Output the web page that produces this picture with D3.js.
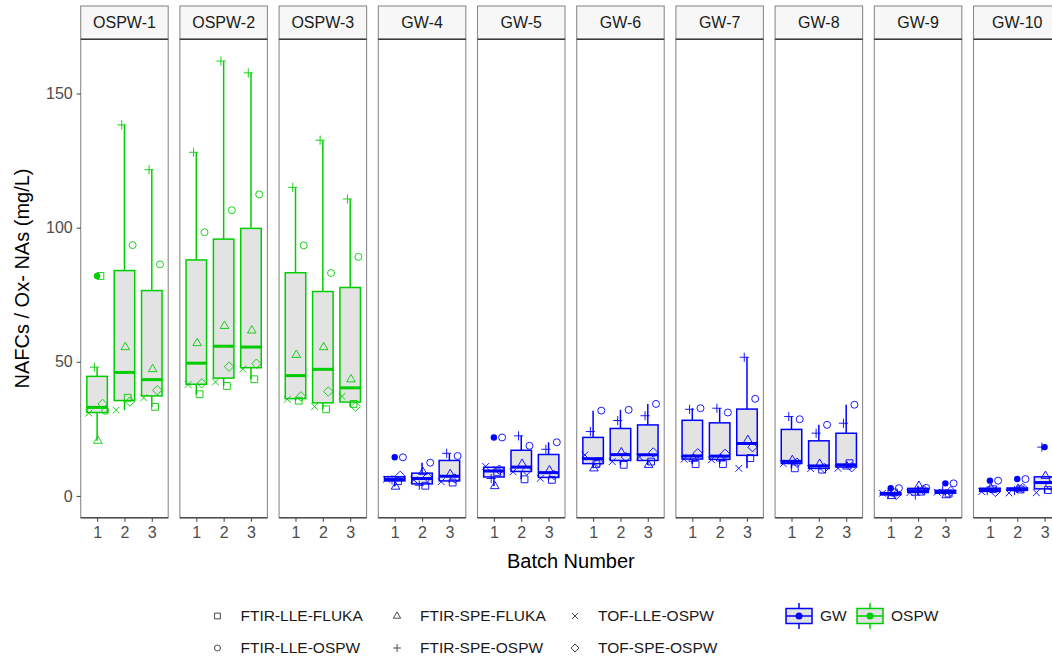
<!DOCTYPE html>
<html>
<head>
<meta charset="utf-8">
<script src="https://cdn.jsdelivr.net/npm/d3@7/dist/d3.min.js"></script>
<style>
  body { margin: 0; background: #fff; }
  svg { display: block; font-family: "Liberation Sans", Arial, sans-serif; }
</style>
</head>
<body>
<svg id="chart"></svg>
<script>
// DATA
const sites = ["OSPW-1", "OSPW-2", "OSPW-3", "GW-4", "GW-5", "GW-6", "GW-7", "GW-8", "GW-9", "GW-10"];
const siteTypes = ["OSPW", "OSPW", "OSPW", "GW", "GW", "GW", "GW", "GW", "GW", "GW"];
const batches = [1, 2, 3];
const methods = ["FTIR-LLE-FLUKA", "FTIR-SPE-FLUKA", "TOF-LLE-OSPW", "FTIR-LLE-OSPW", "FTIR-SPE-OSPW", "TOF-SPE-OSPW"];
const yTicks = [0, 50, 100, 150];

// one row per site, one value per batch (mg/L)
const ftirLleFluka = [
  [82.0, 36.6, 33.2], [37.9, 41.0, 43.5], [35.5, 32.3, 34.3],
  [5.5, 3.8, 5.0], [8.8, 6.2, 6.0], [11.9, 11.6, 12.8], [11.9, 11.9, 14.1],
  [10.3, 9.8, 12.2], [1.3, 1.6, 0.9], [2.5, 2.4, 2.2],
];
const ftirSpeFluka = [
  [20.6, 55.5, 47.3], [57.0, 63.4, 61.7], [52.6, 55.5, 43.5],
  [3.5, 9.0, 8.2], [3.7, 12.0, 9.6], [10.3, 16.3, 11.6], [13.9, 14.0, 20.9],
  [13.4, 12.0, 11.0], [0.0, 3.8, 0.3], [3.0, 2.7, 7.5],
];
const tofLleOspw = [
  [30.9, 32.0, 36.6], [41.5, 42.5, 47.3], [36.0, 33.3, 37.1],
  [6.2, 6.0, 5.3], [11.0, 9.0, 6.6], [15.3, 12.8, 14.5], [13.7, 13.5, 10.3],
  [12.0, 10.2, 10.3], [1.0, 1.2, 1.4], [1.6, 1.1, 1.2],
];
const ftirLleOspw = [
  [31.7, 93.5, 86.3], [98.3, 106.5, 112.4], [93.4, 83.1, 89.1],
  [14.4, 12.4, 14.9], [21.8, 18.7, 20.0], [31.8, 32.1, 34.3], [32.7, 31.1, 36.2],
  [28.6, 26.5, 34.0], [2.9, 3.0, 4.7], [5.7, 6.3, 6.0],
];
const ftirSpeOspw = [
  [48.0, 138.3, 121.6], [128.1, 162.1, 157.7], [115.0, 132.6, 110.7],
  [6.0, 4.0, 15.9], [6.5, 22.4, 17.4], [24.0, 28.1, 29.9], [32.3, 32.7, 51.7],
  [29.6, 23.4, 27.1], [0.6, 0.3, 2.2], [2.0, 2.0, 18.2],
];
const tofSpeOspw = [
  [34.3, 35.2, 39.4], [42.0, 48.2, 49.3], [37.1, 38.9, 33.3],
  [7.5, 7.0, 6.5], [9.8, 9.5, 7.8], [12.5, 14.5, 16.2], [15.9, 15.7, 18.2],
  [12.4, 10.4, 10.7], [0.4, 2.3, 1.8], [1.5, 3.0, 4.0],
];

const methodValues = [ftirLleFluka, ftirSpeFluka, tofLleOspw, ftirLleOspw, ftirSpeOspw, tofSpeOspw];

// STYLE
const width = 1052;
const height = 659;
const colors = { GW: "#0000ff", OSPW: "#00cd00" };
const shapes = ["square", "triangle", "cross", "circle", "plus", "diamond"];
const jitter = [0.12, 0.03, -0.3, 0.3, -0.1, 0.2]; // horizontal spread of points per method

const panelLeft = 80.7;
const panelW = 87.5;
const panelStep = 99.2;
const stripTop = 6;
const panelTop = 39.3;
const panelBottom = 517.7;

const shapePath = (type, k = 1) => {
  const h = 3.4 * k;
  if (type === "square") return `M${-h},${-h}h${2 * h}v${2 * h}h${-2 * h}Z`;
  if (type === "triangle") return `M0,${-4.8 * k}L${4.3 * k},${2.6 * k}L${-4.3 * k},${2.6 * k}Z`;
  if (type === "cross") return `M${-h},${-h}L${h},${h}M${-h},${h}L${h},${-h}`;
  if (type === "plus") return `M${-4.6 * k},0H${4.6 * k}M0,${-4.6 * k}V${4.6 * k}`;
  if (type === "diamond") return `M0,${-4.7 * k}L${4.7 * k},0L0,${4.7 * k}L${-4.7 * k},0Z`;
  const r = 3.5 * k;
  return `M${r},0A${r},${r} 0 1 1 ${-r},0A${r},${r} 0 1 1 ${r},0Z`;
};

// box statistics as in ggplot (type 7 quantiles, 1.5 IQR whiskers)
const boxStats = (values) => {
  const v = values.slice().sort(d3.ascending);
  const q1 = d3.quantile(v, 0.25);
  const med = d3.quantile(v, 0.5);
  const q3 = d3.quantile(v, 0.75);
  const iqr = q3 - q1;
  const inside = v.filter((d) => d >= q1 - 1.5 * iqr && d <= q3 + 1.5 * iqr);
  return {
    q1, med, q3,
    lo: d3.min(inside),
    hi: d3.max(inside),
    outliers: v.filter((d) => d < q1 - 1.5 * iqr || d > q3 + 1.5 * iqr),
  };
};

const svg = d3
  .select("#chart")
  .attr("width", width)
  .attr("height", height)
  .attr("viewBox", [0, 0, width, height]);

const allValues = methodValues.flat(2);
const [vmin, vmax] = d3.extent(allValues);
const pad = (vmax - vmin) * 0.05;

const y = d3
  .scaleLinear()
  .domain([vmin - pad, vmax + pad])
  .range([panelBottom, panelTop]);

const x = d3.scaleLinear().domain([0.4, 3.6]).range([0, panelW]);
const boxHalf = x(1.375) - x(1);

sites.forEach((site, si) => {
  const color = colors[siteTypes[si]];
  const g = svg
    .append("g")
    .attr("transform", `translate(${panelLeft + si * panelStep},0)`);

  // panel background + border
  g.append("rect")
    .attr("x", 0)
    .attr("y", panelTop)
    .attr("width", panelW)
    .attr("height", panelBottom - panelTop)
    .attr("fill", "#fff")
    .attr("stroke", "#8c8c8c")
    .attr("stroke-width", 1.1);

  // strip
  g.append("rect")
    .attr("x", 0)
    .attr("y", stripTop)
    .attr("width", panelW)
    .attr("height", panelTop - stripTop)
    .attr("fill", "#f7f7f7")
    .attr("stroke", "#8c8c8c")
    .attr("stroke-width", 1.1);
  g.append("line")
    .attr("x1", 0)
    .attr("x2", panelW)
    .attr("y1", panelTop)
    .attr("y2", panelTop)
    .attr("stroke", "#3a3a3a")
    .attr("stroke-width", 1.6);
  g.append("text")
    .attr("x", panelW / 2)
    .attr("y", (stripTop + panelTop) / 2)
    .attr("dy", "0.35em")
    .attr("text-anchor", "middle")
    .attr("font-size", 16)
    .attr("fill", "#1a1a1a")
    .text(site);

  // x axis
  const xAxis = d3
    .axisBottom(x)
    .tickValues(batches)
    .tickFormat(d3.format("d"))
    .tickSize(4)
    .tickPadding(5);
  const ax = g
    .append("g")
    .attr("transform", `translate(0,${panelBottom})`)
    .call(xAxis);
  ax.select(".domain").attr("stroke", "#4d4d4d").attr("stroke-width", 1.5).attr("d", `M0,0H${panelW}`);
  ax.selectAll(".tick line").attr("stroke", "#4d4d4d").attr("stroke-width", 1.1);
  ax.selectAll(".tick text")
    .attr("font-size", 16)
    .attr("fill", "#4d4d4d")
    .attr("font-family", "Liberation Sans, Arial, sans-serif");

  batches.forEach((b, bi) => {
    const vals = methodValues.map((m) => m[si][bi]);
    const s = boxStats(vals);
    const cx = x(b);
    const bg = g.append("g");

    // whiskers
    bg.append("line")
      .attr("x1", cx).attr("x2", cx)
      .attr("y1", y(s.q3)).attr("y2", y(s.hi))
      .attr("stroke", color).attr("stroke-width", 1.5);
    bg.append("line")
      .attr("x1", cx).attr("x2", cx)
      .attr("y1", y(s.q1)).attr("y2", y(s.lo))
      .attr("stroke", color).attr("stroke-width", 1.5);

    // box
    bg.append("rect")
      .attr("x", cx - boxHalf)
      .attr("y", y(s.q3))
      .attr("width", 2 * boxHalf)
      .attr("height", y(s.q1) - y(s.q3))
      .attr("fill", "#e3e3e3")
      .attr("stroke", color)
      .attr("stroke-width", 1.5);
    bg.append("line")
      .attr("x1", cx - boxHalf).attr("x2", cx + boxHalf)
      .attr("y1", y(s.med)).attr("y2", y(s.med))
      .attr("stroke", color).attr("stroke-width", 3);

    // outliers
    bg.selectAll("circle.out")
      .data(s.outliers)
      .join("circle")
      .attr("class", "out")
      .attr("cx", cx)
      .attr("cy", (d) => y(d))
      .attr("r", 3.2)
      .attr("fill", color);

    // method points
    bg.selectAll("path.pt")
      .data(vals)
      .join("path")
      .attr("class", "pt")
      .attr("transform", (d, mi) => `translate(${x(b + jitter[mi])},${y(d)})`)
      .attr("d", (d, mi) => shapePath(shapes[mi]))
      .attr("fill", "none")
      .attr("stroke", color)
      .attr("stroke-width", 0.9);
  });
});

// y axis on the first panel
const yAxis = d3.axisLeft(y).tickValues(yTicks).tickSize(4).tickPadding(4);
const ay = svg
  .append("g")
  .attr("transform", `translate(${panelLeft},0)`)
  .call(yAxis);
ay.select(".domain").remove();
ay.selectAll(".tick line").attr("stroke", "#4d4d4d").attr("stroke-width", 1.1);
ay.selectAll(".tick text")
  .attr("font-size", 16)
  .attr("fill", "#4d4d4d")
  .attr("font-family", "Liberation Sans, Arial, sans-serif");

// axis titles
const plotRight = panelLeft + (sites.length - 1) * panelStep + panelW;
svg.append("text")
  .attr("x", (panelLeft + plotRight) / 2)
  .attr("y", 561)
  .attr("dy", "0.35em")
  .attr("text-anchor", "middle")
  .attr("font-size", 20)
  .text("Batch Number");

svg.append("text")
  .attr("transform", `translate(22,${(panelTop + panelBottom) / 2}) rotate(-90)`)
  .attr("dy", "0.35em")
  .attr("text-anchor", "middle")
  .attr("font-size", 20)
  .text("NAFCs / Ox- NAs (mg/L)");

// shape legend (two rows, three columns)
const legendCols = [217.5, 397, 575];
const legendRows = [616, 648];
const lg = svg.append("g");
methods.forEach((name, mi) => {
  const col = mi % 3;
  const row = Math.floor(mi / 3);
  lg.append("path")
    .attr("transform", `translate(${legendCols[col]},${legendRows[row]})`)
    .attr("d", shapePath(shapes[mi], 0.85))
    .attr("fill", "none")
    .attr("stroke", "#333")
    .attr("stroke-width", 0.9);
  lg.append("text")
    .attr("x", legendCols[col] + 23)
    .attr("y", legendRows[row])
    .attr("dy", "0.35em")
    .attr("font-size", 15.5)
    .attr("fill", "#1a1a1a")
    .text(name);
});

// colour legend
const colorKeys = [
  { name: "GW", x: 786 },
  { name: "OSPW", x: 857 },
];
colorKeys.forEach((k) => {
  const c = colors[k.name];
  const cy = 616;
  const kg = svg.append("g");
  kg.append("line")
    .attr("x1", k.x + 13).attr("x2", k.x + 13)
    .attr("y1", cy - 13).attr("y2", cy + 13)
    .attr("stroke", c).attr("stroke-width", 1.5);
  kg.append("rect")
    .attr("x", k.x)
    .attr("y", cy - 7.5)
    .attr("width", 26)
    .attr("height", 15)
    .attr("fill", "#e3e3e3")
    .attr("stroke", c)
    .attr("stroke-width", 1.5);
  kg.append("line")
    .attr("x1", k.x).attr("x2", k.x + 26)
    .attr("y1", cy).attr("y2", cy)
    .attr("stroke", c).attr("stroke-width", 1.5);
  kg.append("circle")
    .attr("cx", k.x + 13)
    .attr("cy", cy)
    .attr("r", 3.5)
    .attr("fill", c);
  kg.append("text")
    .attr("x", k.x + 34)
    .attr("y", cy)
    .attr("dy", "0.35em")
    .attr("font-size", 15.5)
    .attr("fill", "#1a1a1a")
    .text(k.name);
});
</script>
</body>
</html>
